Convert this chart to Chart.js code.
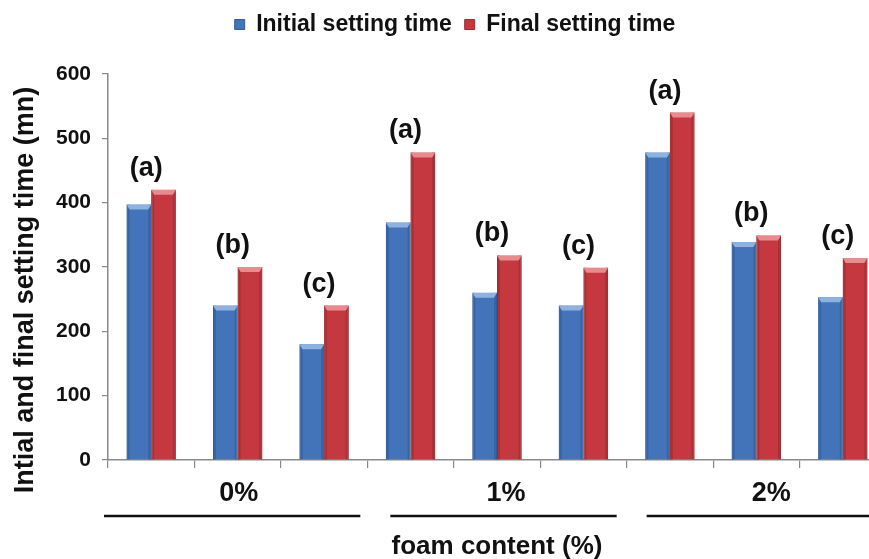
<!DOCTYPE html>
<html>
<head>
<meta charset="utf-8">
<script src="https://cdn.jsdelivr.net/npm/chart.js@4.4.1/dist/chart.umd.min.js"></script>
<style>
  html, body { margin: 0; padding: 0; background: #ffffff; overflow: hidden; }
  #wrap { width: 869px; height: 559px; overflow: hidden; position: relative; }
  canvas { display: block; }
</style>
</head>
<body>
<div id="wrap"><canvas id="c" width="900" height="559"></canvas></div>
<script>
// ---- data ----
const categories = ['(a)', '(b)', '(c)', '(a)', '(b)', '(c)', '(a)', '(b)', '(c)'];
const groups = ['0%', '1%', '2%'];
const initialSetting = [397, 240, 180, 369, 260, 240, 478, 339, 253];
const finalSetting = [420, 300, 240, 478, 318, 299, 540, 349, 314];
const seriesNames = ['Initial setting time', 'Final setting time'];
const yTickValues = [0, 100, 200, 300, 400, 500, 600];
const xTitle = 'foam content (%)';
const yTitle = 'Intial and final setting time (mn)';

const FONT = '"Liberation Sans", Arial, Helvetica, sans-serif';
const BLUE = '#4374ba';
const RED = '#c6383f';

// legend block height / horizontal placement
const legendLayout = {
  id: 'legendLayout',
  afterInit(chart) {
    const lg = chart.legend;
    if (!lg) return;
    const origFit = lg.fit.bind(lg);
    lg.fit = function () { origFit(); this.height = 74; };
  },
  afterLayout(chart) {
    const lg = chart.legend;
    if (!lg) return;
    lg.left += 12; lg.right += 12;
  }
};

// bevel / 3D look on bars
const bevelPlugin = {
  id: 'bevel',
  afterDatasetsDraw(chart) {
    const ctx = chart.ctx;
    const caps = ['#8db2e0', '#e88a8e'];
    const edges = ['#2d5893', '#942a30'];
    chart.data.datasets.forEach((ds, di) => {
      const meta = chart.getDatasetMeta(di);
      meta.data.forEach(bar => {
        const p = bar.getProps(['x', 'y', 'base', 'width'], true);
        const l = p.x - p.width / 2, r = p.x + p.width / 2;
        const t = p.y, b = p.base;
        ctx.save();
        ctx.fillStyle = edges[di];
        ctx.globalAlpha = 0.55;
        ctx.fillRect(l, t, 3, b - t);
        ctx.fillRect(r - 3, t, 3, b - t);
        ctx.globalAlpha = 1;
        ctx.fillStyle = caps[di];
        ctx.beginPath();
        ctx.moveTo(l, t);
        ctx.lineTo(r, t);
        ctx.lineTo(r - 3, t + 5);
        ctx.lineTo(l + 3, t + 5);
        ctx.closePath();
        ctx.fill();
        ctx.restore();
      });
    });
  }
};

// (a)/(b)/(c) labels, grouped axis labels, y-axis title
const annotPlugin = {
  id: 'annot',
  afterDraw(chart) {
    const ctx = chart.ctx;
    const xs = chart.scales.x, ys = chart.scales.y;
    const area = chart.chartArea;
    const cw = xs.getPixelForValue(1) - xs.getPixelForValue(0);
    ctx.save();
    ctx.fillStyle = '#111111';
    ctx.font = 'bold 27px ' + FONT;
    ctx.textAlign = 'center';
    ctx.textBaseline = 'bottom';
    categories.forEach((lab, i) => {
      const top = Math.max(initialSetting[i], finalSetting[i]);
      const y = ys.getPixelForValue(top) - 8;
      ctx.fillText(lab, xs.getPixelForValue(i) - 5, y);
    });
    const insets = [[-4, 7], [23, 10], [20, 17]];
    const nudges = [1, 9, 15];
    ctx.font = 'bold 27px ' + FONT;
    ctx.textBaseline = 'middle';
    ctx.strokeStyle = '#111111';
    ctx.lineWidth = 2.5;
    groups.forEach((g, gi) => {
      const first = gi * 3, last = gi * 3 + 2;
      const left = xs.getPixelForValue(first) - cw / 2;
      const right = xs.getPixelForValue(last) + cw / 2;
      const mid = xs.getPixelForValue(first + 1);
      ctx.fillText(g, mid + nudges[gi], area.bottom + 34);
      ctx.beginPath();
      ctx.moveTo(left + insets[gi][0], area.bottom + 56);
      ctx.lineTo(right - insets[gi][1], area.bottom + 56);
      ctx.stroke();
    });
    // y-axis title
    ctx.translate(area.left - 82, (area.top + area.bottom) / 2 + 23);
    ctx.rotate(-Math.PI / 2);
    ctx.font = 'bold 27px ' + FONT;
    ctx.textBaseline = 'middle';
    ctx.fillText(yTitle, 0, 0);
    ctx.restore();
  }
};

new Chart(document.getElementById('c'), {
  type: 'bar',
  data: {
    labels: categories,
    datasets: [
      { label: seriesNames[0], data: initialSetting, backgroundColor: BLUE, borderColor: '#335f9c', borderWidth: 1 },
      { label: seriesNames[1], data: finalSetting, backgroundColor: RED, borderColor: '#9f2a30', borderWidth: 1 }
    ]
  },
  options: {
    responsive: false,
    animation: false,
    devicePixelRatio: 1,
    layout: { padding: { top: 0, right: 14, left: 0, bottom: 0 } },
    categoryPercentage: 0.57,
    barPercentage: 1.0,
    plugins: {
      legend: {
        position: 'top',
        labels: {
          boxWidth: 10, boxHeight: 10, padding: 13,
          color: '#111111',
          font: { family: FONT, size: 23, weight: 'bold' }
        }
      },
      tooltip: { enabled: false }
    },
    scales: {
      x: {
        offset: true,
        grid: { display: true, drawOnChartArea: false, drawTicks: true, tickLength: 8, color: '#8a8a8a', lineWidth: 1.2, offset: true },
        border: { display: true, color: '#8a8a8a', width: 1.5 },
        ticks: { display: false },
        title: { display: true, text: xTitle, color: '#111111', font: { family: FONT, size: 26, weight: 'bold' }, padding: { top: 0, bottom: -3 } },
        afterFit(scale) { scale.height = 99; }
      },
      y: {
        min: 0, max: 600,
        afterBuildTicks(scale) { scale.ticks = yTickValues.map(v => ({ value: v })); },
        grid: { display: true, drawOnChartArea: false, drawTicks: true, tickLength: 6, color: '#8a8a8a', lineWidth: 1.2 },
        border: { display: true, color: '#8a8a8a', width: 1.5 },
        ticks: { color: '#111111', padding: 11, font: { family: FONT, size: 21, weight: 'bold' } },
        title: { display: false, text: yTitle },
        afterFit(scale) { scale.width = 108; }
      }
    }
  },
  plugins: [legendLayout, bevelPlugin, annotPlugin]
});
</script>
</body>
</html>
